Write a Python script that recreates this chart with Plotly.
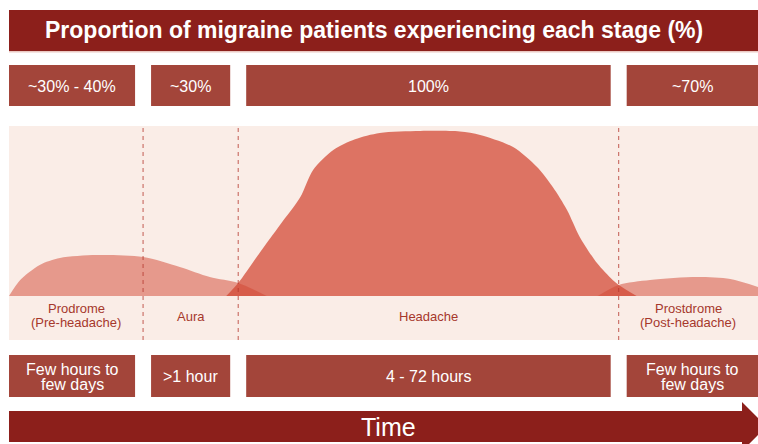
import plotly.graph_objects as go

W, H = 758, 444

# ---------------- data ----------------
title_text = "Proportion of migraine patients experiencing each stage (%)"
stage_labels = ["Prodrome<br>(Pre-headache)", "Aura", "Headache", "Prostdrome<br>(Post-headache)"]
proportions = ["~30% - 40%", "~30%", "100%", "~70%"]
durations = ["Few hours to<br>few days", ">1 hour", "4 - 72 hours", "Few hours to<br>few days"]
stage_edges = [0, 17.9, 30.6, 81.4, 100]          # relative time units
axis_label = "Time"

# relative time (0-100) vs relative share of patients (headache peak = 100)
prodrome_t = [0, 1.5, 4.1, 6.8, 11.7, 17.9, 22.8, 26.8, 30.6, 34.4]
prodrome_y = [0, 9.7, 18.8, 23.0, 24.8, 23.6, 17.6, 11.5, 7.9, 0]

headache_t = [29.0, 30.6, 33.5, 36.2, 38.9, 40.6, 43.3, 46.2, 49.5, 54.9, 60.2, 62.9,
              67.3, 70.5, 72.6, 74.5, 76.2, 78.5, 80.6, 81.4, 83.8]
headache_y = [0, 7.9, 26.4, 43.2, 60.0, 76.4, 88.5, 95.0, 98.8, 100, 99.7, 97.6,
              90.3, 78.2, 66.0, 52.1, 35.8, 20.0, 9.7, 6.7, 0]

postdrome_t = [78.6, 81.4, 85.6, 91.9, 96.3, 100]
postdrome_y = [0, 6.7, 9.7, 11.5, 10.3, 5.5]

# ---------------- styling ----------------
DARK = "#8C1F1B"
BOX = "#A3453A"
BG = "#FAEDE7"
LABEL = "#A6382C"
FONT = "Liberation Sans, Arial, sans-serif"

X0_PX = 9
PX_PER_T = (W - X0_PX) / 100.0
GAP_T = 8 / PX_PER_T


def yp(py):
    return 1 - py / H


def xp(px):
    return px / W


fig = go.Figure()

fig.add_trace(go.Scatter(x=headache_t, y=headache_y, mode="lines",
                         line=dict(width=0, shape="spline", smoothing=0.8),
                         fill="tozeroy", fillcolor="rgba(210,70,50,0.73)",
                         hoverinfo="skip", showlegend=False))
fig.add_trace(go.Scatter(x=prodrome_t, y=prodrome_y, mode="lines",
                         line=dict(width=0, shape="spline", smoothing=0.8),
                         fill="tozeroy", fillcolor="rgba(210,70,50,0.5)",
                         hoverinfo="skip", showlegend=False))
fig.add_trace(go.Scatter(x=postdrome_t, y=postdrome_y, mode="lines",
                         line=dict(width=0, shape="spline", smoothing=0.8),
                         fill="tozeroy", fillcolor="rgba(210,70,50,0.5)",
                         hoverinfo="skip", showlegend=False))

shapes = []
annotations = []

# chart background
shapes.append(dict(type="rect", xref="paper", yref="paper", x0=xp(9), x1=1,
                   y0=yp(340), y1=yp(126), fillcolor=BG, line=dict(width=0), layer="below"))

# title bar
shapes.append(dict(type="rect", xref="paper", yref="paper", x0=xp(9), x1=1,
                   y0=yp(51), y1=yp(10), fillcolor=DARK, line=dict(width=0)))
shapes.append(dict(type="rect", xref="paper", yref="paper", x0=xp(9), x1=1,
                   y0=yp(52.5), y1=yp(51), fillcolor="#EBC9C3", line=dict(width=0)))
annotations.append(dict(text="<b>" + title_text + "</b>", xref="paper", yref="paper",
                        x=xp(374), y=yp(30), showarrow=False,
                        font=dict(family=FONT, size=23, color="white"),
                        xanchor="center", yanchor="middle"))

n = len(stage_labels)
for i in range(n):
    a = stage_edges[i] + (GAP_T if i > 0 else 0)
    b = stage_edges[i + 1] - (GAP_T if i < n - 1 else 0)
    mid = (a + b) / 2
    # proportion box
    shapes.append(dict(type="rect", xref="x", yref="paper", x0=a, x1=b,
                       y0=yp(106), y1=yp(65), fillcolor=BOX, line=dict(width=0)))
    annotations.append(dict(text=proportions[i], xref="x", yref="paper", x=mid, y=yp(86),
                            showarrow=False, font=dict(family=FONT, size=16, color="white"),
                            xanchor="center", yanchor="middle"))
    # duration box
    shapes.append(dict(type="rect", xref="x", yref="paper", x0=a, x1=b,
                       y0=yp(397), y1=yp(355), fillcolor=BOX, line=dict(width=0)))
    lines = durations[i].split("<br>")
    if len(lines) == 1:
        ys = [376]
    else:
        ys = [369, 384.5]
    for ln, yy in zip(lines, ys):
        annotations.append(dict(text=ln, xref="x", yref="paper", x=mid, y=yp(yy),
                                showarrow=False, font=dict(family=FONT, size=16, color="white"),
                                xanchor="center", yanchor="middle"))
    # stage label
    smid = (stage_edges[i] + stage_edges[i + 1]) / 2
    lines = stage_labels[i].split("<br>")
    if len(lines) == 1:
        ys = [316]
    else:
        ys = [308.5, 322.5]
    for ln, yy in zip(lines, ys):
        annotations.append(dict(text=ln, xref="x", yref="paper", x=smid, y=yp(yy),
                                showarrow=False, font=dict(family=FONT, size=13, color=LABEL),
                                xanchor="center", yanchor="middle"))

# dashed stage separators
for e in stage_edges[1:-1]:
    shapes.append(dict(type="line", xref="x", yref="paper", x0=e, x1=e,
                       y0=yp(340), y1=yp(126),
                       line=dict(color="rgba(180,55,45,0.8)", width=1, dash="4px,4px")))

# time arrow
pts = [(9, 411), (742, 411), (742, 402), (766.5, 426.5), (742, 451), (742, 442), (9, 442)]
path = "M " + " L ".join(f"{xp(x):.5f},{yp(y):.5f}" for x, y in pts) + " Z"
shapes.append(dict(type="path", xref="paper", yref="paper", path=path,
                   fillcolor=DARK, line=dict(width=0)))
annotations.append(dict(text=axis_label, xref="paper", yref="paper", x=xp(388), y=yp(427),
                        showarrow=False, font=dict(family=FONT, size=25, color="white"),
                        xanchor="center", yanchor="middle"))

fig.update_layout(
    width=W, height=H,
    margin=dict(l=0, r=0, t=0, b=0),
    paper_bgcolor="white", plot_bgcolor="rgba(0,0,0,0)",
    showlegend=False,
    xaxis=dict(domain=[xp(X0_PX), 1], range=[0, 100], visible=False, fixedrange=True),
    yaxis=dict(domain=[yp(296), yp(126)], range=[0, 170 / 165 * 100], visible=False,
               fixedrange=True),
    shapes=shapes,
    annotations=annotations,
)

fig.write_html(
    "out.html",
    config={"displayModeBar": False},
    post_script="document.body.style.margin='0';document.body.style.overflow='hidden';",
)
